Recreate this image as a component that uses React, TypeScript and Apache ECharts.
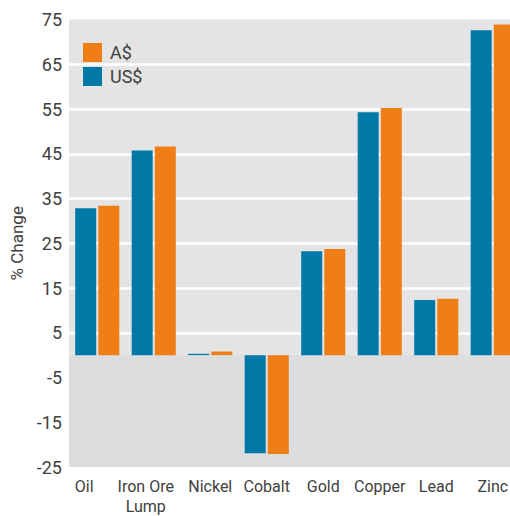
import React, { useEffect, useRef } from "react";
import * as echarts from "echarts";

// Commodities and their percentage price change, in US and Australian dollars
const categories = ["Oil", "Iron Ore\nLump", "Nickel", "Cobalt", "Gold", "Copper", "Lead", "Zinc"];
const usd = [32.8, 45.7, 0.3, -21.9, 23.2, 54.3, 12.3, 72.6];
const aud = [33.4, 46.6, 0.8, -22.1, 23.7, 55.2, 12.6, 73.9];
const legendNames = ["A$", "US$"];

// the first two labels sit a little left of their bar pairs
const labelPadRight: Record<string, number> = { Oil: 26, "Iron Ore\nLump": 16 };

const BLUE = "#0079a7";
const ORANGE = "#ef7e17";
const TEXT = "#404040";
const FONT = "Roboto, 'Noto Sans', sans-serif";

export default function App() {
  const ref = useRef<HTMLDivElement>(null);

  useEffect(() => {
    document.body.style.margin = "0";
    document.body.style.overflow = "hidden";
    if (!ref.current) return;
    const chart = echarts.init(ref.current, undefined, { renderer: "svg" });
    chart.setOption({
      animation: false,
      textStyle: { fontFamily: FONT, color: TEXT },
      grid: {
        left: 69,
        right: 0,
        top: 19.5,
        bottom: 47,
        show: true,
        backgroundColor: "#e3e4e3",
        borderWidth: 0,
      },
      legend: {
        data: legendNames,
        orient: "vertical",
        left: 83,
        top: 43,
        padding: 0,
        icon: "rect",
        itemWidth: 19,
        itemHeight: 19,
        itemGap: 5,
        textStyle: { fontSize: 18, color: TEXT, fontFamily: FONT, padding: [0, 0, 0, 3] },
      },
      xAxis: {
        type: "category",
        data: categories.map((c) => ({
          value: c,
          textStyle: { padding: [0, labelPadRight[c] || 0, 0, 0] },
        })),
        axisLine: { show: false },
        axisTick: { show: false },
        axisLabel: {
          fontSize: 16,
          color: TEXT,
          margin: 9,
          lineHeight: 20,
          interval: 0,
          fontFamily: FONT,
        },
      },
      yAxis: {
        type: "value",
        min: -25,
        max: 75,
        interval: 10,
        z: 1,
        name: "% Change",
        nameLocation: "middle",
        nameGap: 38,
        nameTextStyle: { fontSize: 17, color: TEXT, fontFamily: FONT },
        axisLine: { show: false },
        axisTick: { show: false },
        axisLabel: { fontSize: 18, color: TEXT, margin: 7, fontFamily: FONT },
        splitLine: {
          show: true,
          showMinLine: false,
          showMaxLine: false,
          lineStyle: { color: "#ffffff", width: 2.5 },
        },
      },
      series: [
        {
          // shades the negative region of the plot
          name: "shade",
          type: "line",
          z: 0,
          data: categories.map(() => null),
          symbol: "none",
          silent: true,
          markArea: {
            silent: true,
            itemStyle: { color: "#dcdddf" },
            data: [[{ yAxis: -25 }, { yAxis: 0 }]],
          },
        },
        {
          name: "US$",
          type: "bar",
          z: 2,
          data: usd,
          barWidth: 21,
          barGap: "10%",
          itemStyle: { color: BLUE },
        },
        {
          name: "A$",
          type: "bar",
          z: 2,
          data: aud,
          barWidth: 21,
          barGap: "10%",
          itemStyle: { color: ORANGE },
        },
      ],
    });
    return () => chart.dispose();
  }, []);

  return (
    <div style={{ width: 510, height: 516, overflow: "hidden" }}>
      <div ref={ref} style={{ width: 521, height: 516 }} />
    </div>
  );
}
